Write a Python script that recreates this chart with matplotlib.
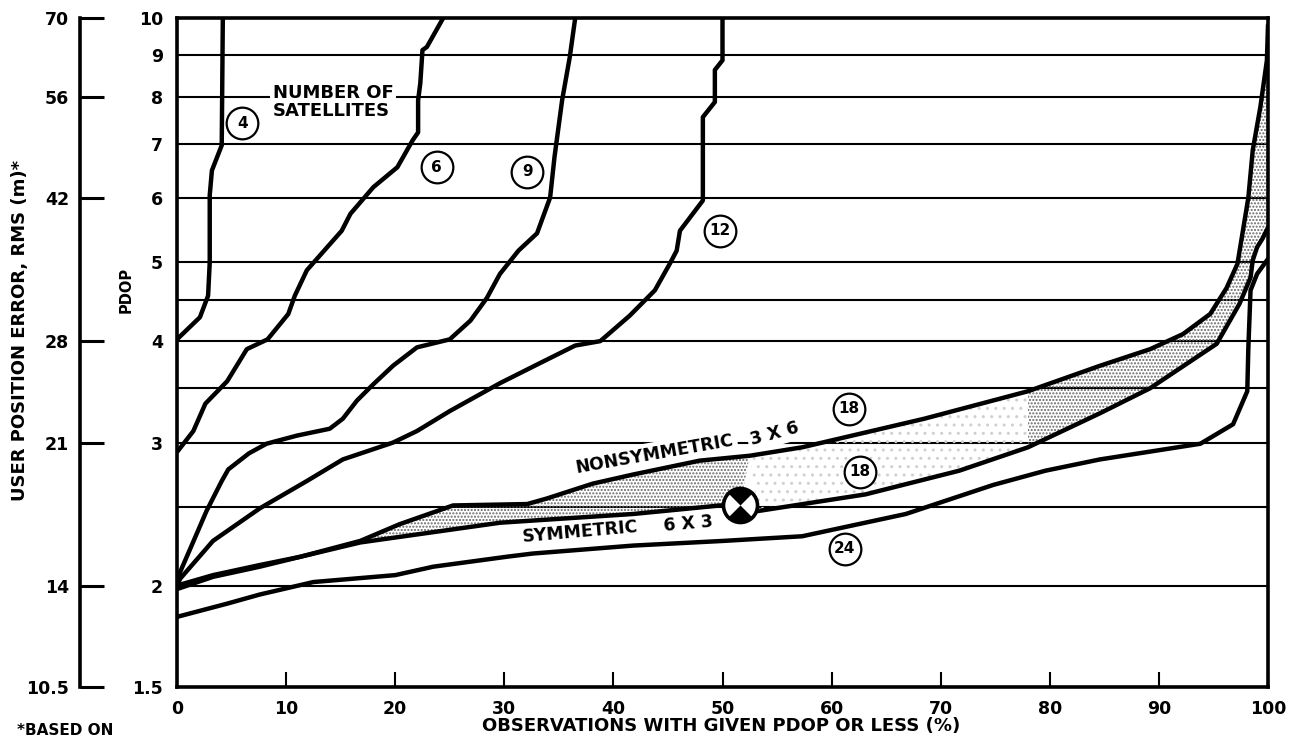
import matplotlib
matplotlib.use("Agg")
import matplotlib.pyplot as plt
from matplotlib.path import Path
from matplotlib.ticker import NullLocator
import numpy as np

plt.rcParams['font.family'] = ['DejaVu Sans']
plt.rcParams['font.weight'] = 'bold'
plt.rcParams['hatch.linewidth'] = 1.0

# ---------------- data ----------------
obs_ticks = [0, 10, 20, 30, 40, 50, 60, 70, 80, 90, 100]
pdop_ticks = [1.5, 2, 3, 4, 5, 6, 7, 8, 9, 10]
pdop_tick_labels = ["1.5", "2", "3", "4", "5", "6", "7", "8", "9", "10"]
pdop_grid = [2, 2.5, 3, 3.5, 4, 4.5, 5, 6, 7, 8, 9]
err_ticks = [10.5, 14, 21, 28, 42, 56, 70]
err_tick_labels = ["10.5", "14", "21", "28", "42", "56", "70"]

sat4_x = [0, 2.1, 2.85, 3.0, 3.0, 3.2, 4.1, 4.2]
sat4_y = [4.02, 4.28, 4.55, 5.0, 6.05, 6.49, 6.97, 10.0]

sat6_x = [0, 1.5, 2.6, 4.6, 6.4, 8.3, 10.2, 10.8, 11.9, 13.1, 15.1, 15.9, 17.5,
          18.0, 20.2, 21.6, 22.1, 22.1, 22.3, 22.5, 22.9, 24.4]
sat6_y = [2.92, 3.10, 3.35, 3.57, 3.91, 4.02, 4.32, 4.55, 4.89, 5.10, 5.47, 5.74,
          6.08, 6.19, 6.55, 7.07, 7.23, 7.92, 8.31, 9.13, 9.21, 10.0]

sat9_x = [0, 0.3, 1.4, 2.7, 4.1, 4.7, 6.6, 8.2, 11.0, 14.0, 15.2, 16.5, 18.0, 19.8,
          22.0, 25.0, 26.9, 28.4, 29.6, 31.3, 33.0, 34.2, 34.6, 35.3, 36.0, 36.5]
sat9_y = [2.00, 2.08, 2.25, 2.47, 2.69, 2.78, 2.91, 2.99, 3.06, 3.12, 3.21, 3.38,
          3.54, 3.73, 3.93, 4.02, 4.24, 4.52, 4.84, 5.17, 5.43, 6.01, 6.74, 7.92,
          8.95, 10.0]

sat12_x = [0, 0.3, 3.3, 7.6, 11.9, 15.2, 19.8, 22.0, 25.0, 29.6, 33.3, 36.5, 38.8,
           41.5, 43.8, 45.2, 45.8, 46.1, 48.2, 48.2, 49.3, 49.3, 50.0, 50.0]
sat12_y = [2.00, 2.04, 2.27, 2.49, 2.69, 2.86, 3.00, 3.10, 3.28, 3.55, 3.76, 3.95,
           4.00, 4.30, 4.62, 4.99, 5.17, 5.47, 5.96, 7.55, 7.88, 8.63, 8.87, 10.0]

sym6x3_x = [0, 3.3, 7.6, 11.3, 16.8, 29.6, 41.8, 49.8, 53.2, 63.1, 71.7, 78.0, 84.6,
            89.2, 95.3, 97.4, 98.4, 98.6, 99.0, 99.5, 100]
sym6x3_y = [1.98, 2.05, 2.11, 2.17, 2.26, 2.39, 2.45, 2.51, 2.47, 2.59, 2.77, 2.96,
            3.26, 3.50, 3.97, 4.45, 4.79, 5.03, 5.22, 5.35, 5.52]

nonsym3x6_x = [0, 3.3, 7.6, 11.3, 16.8, 20.4, 25.3, 32.1, 33.9, 38.1, 41.8, 47.9,
               52.5, 57.3, 68.5, 78.0, 84.6, 89.2, 92.2, 94.7, 96.2, 97.2, 97.7,
               98.2, 98.6, 99.3, 99.9, 100]
nonsym3x6_y = [2.00, 2.06, 2.12, 2.17, 2.27, 2.38, 2.51, 2.52, 2.56, 2.67, 2.74,
               2.85, 2.89, 2.96, 3.21, 3.47, 3.73, 3.91, 4.08, 4.32, 4.65, 4.98,
               5.47, 6.01, 6.87, 7.77, 8.87, 9.80]

sat24_x = [0, 4.6, 7.6, 12.5, 20.0, 23.5, 30.2, 32.6, 41.8, 50.1, 52.5, 57.3, 66.8,
           74.8, 79.6, 84.6, 93.8, 96.8, 98.1, 98.2, 98.4, 99.0, 100]
sat24_y = [1.83, 1.90, 1.95, 2.02, 2.06, 2.11, 2.17, 2.19, 2.24, 2.27, 2.28, 2.30,
           2.45, 2.66, 2.77, 2.86, 2.99, 3.16, 3.47, 3.93, 4.62, 4.84, 5.05]

# circled labels: (text, x, pdop)
circle_labels = ["4", "6", "9", "12", "18", "18", "24"]
circle_x = [6.0, 23.8, 32.1, 49.8, 61.6, 62.6, 61.2]
circle_y = [7.42, 6.55, 6.47, 5.47, 3.30, 2.76, 2.22]

optimum_x = [51.6]
optimum_y = [2.51]

# ---------------- figure ----------------
W, H = 1295, 740
fig = plt.figure(figsize=(W / 100, H / 100), dpi=100)
ax = fig.add_axes([177 / W, 53 / H, 1091 / W, 669 / H])
ax.set_yscale('log')
ax.set_xlim(0, 100)
ax.set_ylim(1.5, 10)
ax.set_yticks(pdop_ticks)
ax.set_yticklabels(pdop_tick_labels)
ax.yaxis.set_minor_locator(NullLocator())
ax.tick_params(axis='y', length=0, pad=10, labelsize=12.5)
ax.set_xticks(obs_ticks)
ax.set_xticklabels([str(t) for t in obs_ticks])
ax.tick_params(axis='x', direction='in', length=11, width=1.5, pad=9, labelsize=12.5)
for s in ax.spines.values():
    s.set_linewidth(2.6)
    s.set_zorder(6)

for g in pdop_grid:
    ax.axhline(g, color='black', lw=1.5, zorder=1)

# shaded band between the two 18-satellite curves
nx, ny = np.array(nonsym3x6_x), np.array(nonsym3x6_y)
sx, sy = np.array(sym6x3_x), np.array(sym6x3_y)
left_x = np.concatenate([nx[4:13], optimum_x, sx[4:8][::-1]])
left_y = np.concatenate([ny[4:13], optimum_y, sy[4:8][::-1]])
mid_x = np.concatenate([nx[12:16], sx[8:12][::-1]])
mid_y = np.concatenate([ny[12:16], sy[8:12][::-1]])
right_x = np.concatenate([nx[15:], sx[11:][::-1]])
right_y = np.concatenate([ny[15:], sy[11:][::-1]])
ax.fill(left_x, left_y, facecolor='none', edgecolor='#666666', hatch='.....', lw=0, zorder=2)
ax.fill(right_x, right_y, facecolor='none', edgecolor='#666666', hatch='.....', lw=0, zorder=2)
ax.fill(mid_x, mid_y, facecolor='none', edgecolor='#d0d0d0', hatch='..', lw=0, zorder=2)

lw = 3.2
for xs, ys in [(sat4_x, sat4_y), (sat6_x, sat6_y), (sat9_x, sat9_y), (sat12_x, sat12_y),
               (sym6x3_x, sym6x3_y), (nonsym3x6_x, nonsym3x6_y), (sat24_x, sat24_y)]:
    ax.plot(xs, ys, color='black', lw=lw, solid_joinstyle='round',
            solid_capstyle='round', zorder=4, clip_on=True)

# circled numbers
ax.scatter(circle_x, circle_y, s=520, facecolor='white', edgecolor='black',
           linewidths=1.6, zorder=5)
for t, x, y in zip(circle_labels, circle_x, circle_y):
    ax.text(x, y, t, ha='center', va='center', fontsize=11, zorder=6)

# optimum marker
ax.plot(optimum_x, optimum_y, marker='o', ms=24.5, mfc='white', mec='black',
        mew=2.6, ls='none', zorder=7)
bowtie = Path.make_compound_path(Path.wedge(45, 135), Path.wedge(225, 315))
ax.plot(optimum_x, optimum_y, marker=bowtie, ms=24.5, color='black', mew=0,
        ls='none', zorder=8)

# annotations
ax.text(8.8, 7.88, "NUMBER OF\nSATELLITES", ha='left', va='center', fontsize=13,
        linespacing=0.95, zorder=3,
        bbox=dict(boxstyle='square,pad=0.15', fc='white', ec='none'))
ax.text(43.8, 2.90, "NONSYMMETRIC", ha='center', va='center', fontsize=12.5,
        rotation=10, rotation_mode='anchor', zorder=3,
        bbox=dict(boxstyle='square,pad=0.2', fc='white', ec='none'))
ax.text(54.8, 3.08, "3 X 6", ha='center', va='center', fontsize=12.5,
        rotation=15, rotation_mode='anchor', zorder=3,
        bbox=dict(boxstyle='square,pad=0.2', fc='white', ec='none'))
ax.text(37.0, 2.33, "SYMMETRIC", ha='center', va='center', fontsize=12.5,
        rotation=5, rotation_mode='anchor', zorder=3)
ax.text(46.9, 2.38, "6 X 3", ha='center', va='center', fontsize=12.5,
        rotation=5, rotation_mode='anchor', zorder=3)

ax.text(-0.0467, 0.593, "PDOP", rotation=90, ha='center', va='center',
        fontsize=10.5, transform=ax.transAxes)

# outer error axis
ax2 = fig.add_axes([80 / W, 53 / H, 0.02, 669 / H])
ax2.set_yscale('log')
ax2.set_ylim(10.5, 70)
ax2.set_yticks(err_ticks)
ax2.set_yticklabels(err_tick_labels)
ax2.yaxis.set_minor_locator(NullLocator())
ax2.tick_params(axis='y', direction='in', length=17, width=2.2, pad=8, labelsize=12.5)
ax2.set_xticks([])
for k in ['top', 'right', 'bottom']:
    ax2.spines[k].set_visible(False)
ax2.spines['left'].set_linewidth(2.6)
ax2.patch.set_visible(False)

fig.text(20 / W, 1 - 330 / H, "USER POSITION ERROR, RMS (m)*", rotation=90,
         ha='center', va='center', fontsize=13)
fig.text(721 / W, 1 - 726 / H, "OBSERVATIONS WITH GIVEN PDOP OR LESS (%)",
         ha='center', va='center', fontsize=13)
fig.text(17 / W, 2 / H, "*BASED ON", ha='left', va='bottom', fontsize=11)

fig.savefig("out.png", dpi=100)
